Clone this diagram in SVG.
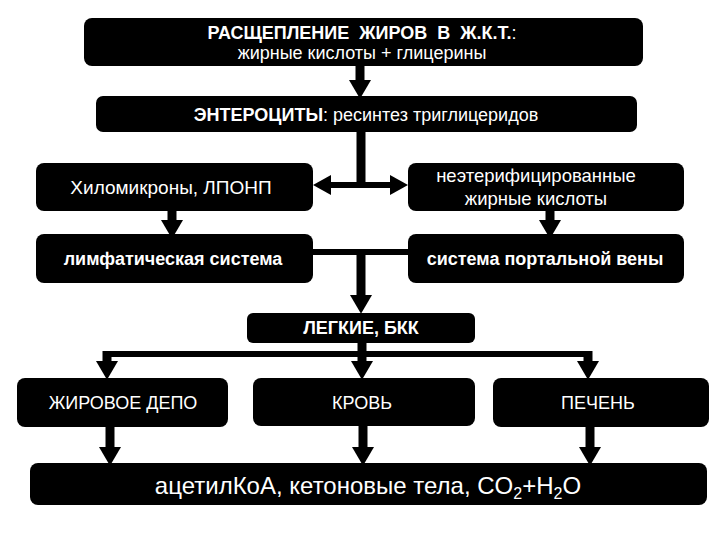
<svg xmlns="http://www.w3.org/2000/svg" width="720" height="540" viewBox="0 0 720 540">
<style>
  .box { fill: #000; }
  text { font-family: "Liberation Sans", Arial, sans-serif; fill: #fff; text-anchor: middle; }
  .b { font-weight: bold; }
  .shaft { stroke: #000; stroke-width: 9; fill: none; }
  .line { stroke: #000; stroke-width: 6; fill: none; }
</style>
<defs>
  <marker id="head" markerUnits="userSpaceOnUse" markerWidth="20" markerHeight="22" refX="0" refY="10" orient="auto" viewBox="0 0 17 20">
    <path d="M0,0 L17,10 L0,20 Z" fill="#000"/>
  </marker>
</defs>
<rect width="720" height="540" fill="#fff"/>

<g id="connectors">
  <line class="shaft" x1="360" y1="66" x2="360" y2="80" marker-end="url(#head)"/>
  <line class="shaft" x1="361" y1="132" x2="361" y2="188"/>
  <line class="line" x1="330" y1="185" x2="391" y2="185"/>
  <path d="M313,185 L331,175 L331,195 Z" fill="#000"/>
  <path d="M408,185 L390,175 L390,195 Z" fill="#000"/>
  <line class="shaft" x1="172" y1="211" x2="172" y2="220" marker-end="url(#head)"/>
  <line class="shaft" x1="550" y1="211" x2="550" y2="220" marker-end="url(#head)"/>
  <line class="line" x1="313" y1="252" x2="408" y2="252"/>
  <line class="shaft" x1="361" y1="249" x2="361" y2="295" marker-end="url(#head)"/>
  <line class="shaft" x1="362" y1="343" x2="362" y2="361" marker-end="url(#head)"/>
  <line class="line" x1="104" y1="354" x2="591" y2="354"/>
  <line class="shaft" x1="107" y1="351" x2="107" y2="361" marker-end="url(#head)"/>
  <line class="shaft" x1="588" y1="351" x2="588" y2="361" marker-end="url(#head)"/>
  <line class="shaft" x1="110" y1="427" x2="110" y2="447" marker-end="url(#head)"/>
  <line class="shaft" x1="363" y1="426" x2="363" y2="447" marker-end="url(#head)"/>
  <line class="shaft" x1="590" y1="427" x2="590" y2="447" marker-end="url(#head)"/>
</g>

<g id="n-split">
  <rect class="box" x="84" y="18" width="559" height="48" rx="8"/>
  <text x="362" y="39" font-size="18" class="b" xml:space="preserve">РАСЩЕПЛЕНИЕ  ЖИРОВ  В  Ж.К.Т.<tspan font-weight="normal">:</tspan></text>
  <text x="362" y="59" font-size="18">жирные кислоты + глицерины</text>
</g>

<g id="n-entero">
  <rect class="box" x="96" y="96" width="541" height="36" rx="7"/>
  <text x="366" y="121" font-size="18"><tspan font-weight="bold">ЭНТЕРОЦИТЫ</tspan>: ресинтез триглицеридов</text>
</g>

<g id="n-chylo">
  <rect class="box" x="36" y="163" width="277" height="48" rx="8"/>
  <text x="171" y="194" font-size="19">Хиломикроны, ЛПОНП</text>
</g>

<g id="n-nefa">
  <rect class="box" x="408" y="163" width="276" height="48" rx="8"/>
  <text x="536" y="182" font-size="18.5">неэтерифицированные</text>
  <text x="536" y="205" font-size="18.5">жирные кислоты</text>
</g>

<g id="n-lymph">
  <rect class="box" x="36" y="234" width="277" height="49" rx="8"/>
  <text x="173" y="265" font-size="18" class="b">лимфатическая система</text>
</g>

<g id="n-portal">
  <rect class="box" x="408" y="234" width="276" height="49" rx="8"/>
  <text x="545" y="265" font-size="18" class="b">система портальной вены</text>
</g>

<g id="n-lungs">
  <rect class="box" x="247" y="313" width="228" height="30" rx="6"/>
  <text x="361" y="334" font-size="18" class="b">ЛЕГКИЕ, БКК</text>
</g>

<g id="n-depot">
  <rect class="box" x="17" y="378" width="211" height="49" rx="8"/>
  <text x="123" y="409" font-size="18">ЖИРОВОЕ ДЕПО</text>
</g>

<g id="n-blood">
  <rect class="box" x="253" y="378" width="222" height="48" rx="8"/>
  <text x="362" y="409" font-size="18">КРОВЬ</text>
</g>

<g id="n-liver">
  <rect class="box" x="493" y="378" width="216" height="49" rx="8"/>
  <text x="598" y="409" font-size="18">ПЕЧЕНЬ</text>
</g>

<g id="n-result">
  <rect class="box" x="30" y="463" width="677" height="42" rx="8"/>
  <text x="368" y="494" font-size="24">ацетилКоА, кетоновые тела, CO<tspan font-size="16" dy="5">2</tspan><tspan dy="-5">+H</tspan><tspan font-size="16" dy="5">2</tspan><tspan dy="-5">O</tspan></text>
</g>
</svg>
